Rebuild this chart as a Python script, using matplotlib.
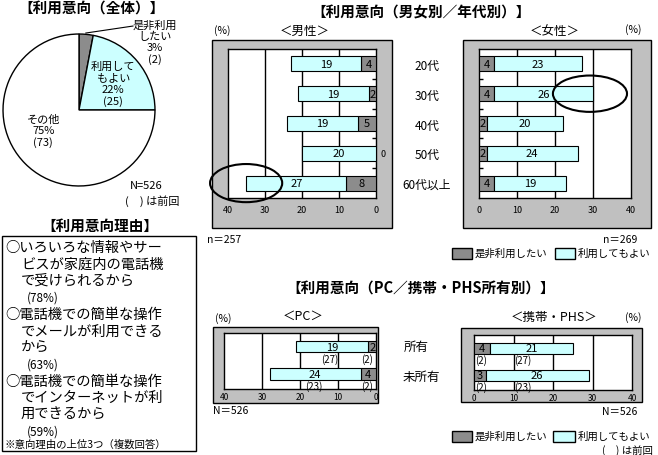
import numpy as np
import matplotlib
matplotlib.use("Agg")
import matplotlib.pyplot as plt
from matplotlib.patches import Rectangle, Ellipse
from matplotlib.transforms import blended_transform_factory

plt.rcParams['font.family'] = ['Noto Sans CJK JP', 'DejaVu Sans']

# ---- data ----
pie_labels = ['是非利用\nしたい', '利用して\nもよい', 'その他']
pie_values = [3, 22, 75]
pie_prev = [2, 25, 73]

ages = ['20代', '30代', '40代', '50代', '60代以上']
male_strong = [4, 2, 5, 0, 8]
male_ok = [19, 19, 19, 20, 27]
female_strong = [4, 4, 2, 2, 4]
female_ok = [23, 26, 20, 24, 19]

own = ['所有', '未所有']
pc_strong = [2, 4]
pc_ok = [19, 24]
pc_strong_prev = [2, 2]
pc_ok_prev = [27, 23]
mob_strong = [4, 3]
mob_ok = [21, 26]
mob_strong_prev = [2, 2]
mob_ok_prev = [27, 23]

reasons = ['いろいろな情報やサービスが家庭内の電話機で受けられるから',
           '電話機での簡単な操作でメールが利用できるから',
           '電話機での簡単な操作でインターネットが利用できるから']
reason_pcts = [78, 63, 59]

GRAY = '#8c8c8c'
CYAN = '#ccffff'
FRAME = '#c0c0c0'

W, H = 658, 456
fig = plt.figure(figsize=(W / 100, H / 100), dpi=100)


def px_axes(x0, y0, x1, y1):
    return fig.add_axes([x0 / W, 1 - y1 / H, (x1 - x0) / W, (y1 - y0) / H])


def ftext(x, y, s, **kw):
    kw.setdefault('ha', 'center')
    kw.setdefault('va', 'center')
    fig.text(x / W, 1 - y / H, s, **kw)


def frect(x0, y0, x1, y1, fc, lw=1.0, z=0):
    fig.add_artist(Rectangle((x0 / W, 1 - y1 / H), (x1 - x0) / W, (y1 - y0) / H,
                             transform=fig.transFigure, fc=fc, ec='black', lw=lw, zorder=z))


# ---- pie (overall) ----
ftext(92, 9, '【利用意向（全体）】', fontsize=10.5, fontweight='bold')
ax = px_axes(1.5, 33.5, 156.5, 188.5)
ax.pie(pie_values, colors=[GRAY, CYAN, 'white'], startangle=90, counterclock=False,
       wedgeprops=dict(edgecolor='black', linewidth=1))
ax.set_xlim(-1.02, 1.02)
ax.set_ylim(-1.02, 1.02)
ax.plot([0.09, 0.71], [1.013, 1.105], color='black', lw=0.8, clip_on=False)
pie_pos = [(1.0, 0.90), (0.45, 0.35), (-0.47, -0.27)]
for lab, v, p, (lx, ly) in zip(pie_labels, pie_values, pie_prev, pie_pos):
    ax.text(lx, ly, f'{lab}\n{v}%\n({p})', ha='center', va='center', fontsize=8,
            linespacing=1.15, clip_on=False)
ftext(130, 186, 'N=526', fontsize=8, ha='left')
ftext(125, 201, '(　) は前回', fontsize=8, ha='left')

# ---- reasons box ----
ftext(100, 226, '【利用意向理由】', fontsize=10.5, fontweight='bold')
frect(2, 237, 196, 452, 'white')
y = 248
step = 16.7
for r, p in zip(reasons, reason_pcts):
    chunks = [r[i:i + 10] for i in range(0, len(r), 10)]
    for k, c in enumerate(chunks):
        if k == 0:
            ftext(5, y, '○' + c, fontsize=10.3, ha='left')
        else:
            ftext(21, y, c, fontsize=10.3, ha='left')
        y += step
    ftext(27, y, f'({p}%)', fontsize=8.5, ha='left')
    y += step
ftext(5, 445, '※意向理由の上位3つ（複数回答）', fontsize=7.5, ha='left')

# ---- gender / age panels ----
ftext(421, 12, '【利用意向（男女別／年代別）】', fontsize=10.5, fontweight='bold')


def age_panel(ax, strong, ok, male):
    yy = np.arange(len(strong))
    ax.barh(yy, strong, height=0.5, color=GRAY, edgecolor='black', lw=0.8, zorder=3)
    ax.barh(yy, ok, left=strong, height=0.5, color=CYAN, edgecolor='black', lw=0.8, zorder=3)
    for v in (10, 20, 30):
        ax.axvline(v, color='black', lw=1, zorder=1)
    for i, (s, o) in enumerate(zip(strong, ok)):
        ax.text(s + o / 2, i, str(o), ha='center', va='center', fontsize=8, zorder=4)
        if s > 0:
            ax.text(s / 2, i, str(s), ha='center', va='center', fontsize=8, zorder=4)
        else:
            ax.text(-2, i, str(s), ha='center', va='center', fontsize=6.5, clip_on=False)
    ax.set_xlim((40, 0) if male else (0, 40))
    ax.set_ylim(len(strong) - 0.5, -0.5)
    ax.set_xticks([0, 10, 20, 30, 40])
    ax.tick_params(axis='x', length=0, pad=5, labelsize=6.5)
    ax.set_yticks(yy[:-1] + 0.5)
    ax.set_yticklabels([])
    if male:
        ax.yaxis.tick_right()
    ax.tick_params(axis='y', direction='in', length=3, width=1)
    for sp in ax.spines.values():
        sp.set_linewidth(1)


frect(212, 41, 392, 229, FRAME)
ax_m = px_axes(228, 50, 376, 199)
age_panel(ax_m, male_strong, male_ok, True)
ax_m.add_patch(Ellipse((35.1, 4.0), 19.5, 1.28, fill=False, ec='black', lw=1.5,
                       clip_on=False, zorder=5))

frect(463, 41, 651, 229, FRAME)
ax_f = px_axes(479, 50, 631, 199)
age_panel(ax_f, female_strong, female_ok, False)
ax_f.add_patch(Ellipse((29.2, 1.0), 19.5, 1.22, fill=False, ec='black', lw=1.5,
                       clip_on=False, zorder=5))

tr = blended_transform_factory(fig.transFigure, ax_m.transData)
for i, a in enumerate(ages):
    fig.text(427 / W, i + 0.05, a, transform=tr, ha='center', va='center', fontsize=8.5)

ftext(222, 31, '(%)', fontsize=7.5)
ftext(305, 31, '＜男性＞', fontsize=9)
ftext(555, 32, '＜女性＞', fontsize=9)
ftext(633, 30, '(%)', fontsize=7.5)
ftext(207, 240, 'n＝257', fontsize=7.5, ha='left')
ftext(637, 240, 'n＝269', fontsize=7.5, ha='right')

frect(452, 249, 472, 260, GRAY)
ftext(475, 254, '是非利用したい', fontsize=7.5, ha='left')
frect(555, 249, 575, 260, CYAN)
ftext(578, 254, '利用してもよい', fontsize=7.5, ha='left')

# ---- PC / mobile panels ----
ftext(421, 289, '【利用意向（PC／携帯・PHS所有別）】', fontsize=10.5, fontweight='bold')


def own_panel(ax, strong, ok, strong_prev, ok_prev, sp_pos, op_pos, ha, pc):
    yy = np.arange(len(strong))
    ax.barh(yy, strong, height=0.42, color=GRAY, edgecolor='black', lw=0.8, zorder=3)
    ax.barh(yy, ok, left=strong, height=0.42, color=CYAN, edgecolor='black', lw=0.8, zorder=3)
    for v in (10, 20, 30):
        ax.axvline(v, color='black', lw=1, zorder=1)
    for i, (s, o) in enumerate(zip(strong, ok)):
        ax.text(s + o / 2, i, str(o), ha='center', va='center', fontsize=8, zorder=4)
        ax.text(s / 2, i, str(s), ha='center', va='center', fontsize=8, zorder=4)
        ax.text(sp_pos, i + 0.42, f'({strong_prev[i]})', ha=ha, va='center', fontsize=7, zorder=4)
        ax.text(op_pos[i], i + 0.42, f'({ok_prev[i]})', ha=ha, va='center', fontsize=7, zorder=4)
    ax.set_xlim((40, 0) if pc else (0, 40))
    ax.set_ylim(1.55, -0.5)
    ax.set_xticks([0, 10, 20, 30, 40])
    ax.set_yticks([])
    ax.tick_params(axis='x', length=0, pad=2, labelsize=6)
    for sp in ax.spines.values():
        sp.set_linewidth(1)


frect(213, 328, 378, 404, FRAME)
ax_pc = px_axes(224, 334, 376, 390)
own_panel(ax_pc, pc_strong, pc_ok, pc_strong_prev, pc_ok_prev, 0.8, [10, 14], 'right', True)

frect(461, 329, 642, 403, FRAME)
ax_mb = px_axes(474, 336, 632, 391)
own_panel(ax_mb, mob_strong, mob_ok, mob_strong_prev, mob_ok_prev, 0.2, [10.2, 10.2], 'left', False)

tr2 = blended_transform_factory(fig.transFigure, ax_pc.transData)
fig.text(416 / W, 0, own[0], transform=tr2, ha='center', va='center', fontsize=9)
fig.text(421 / W, 1.1, own[1], transform=tr2, ha='center', va='center', fontsize=9)

ftext(223, 319, '(%)', fontsize=7.5)
ftext(303, 316, '＜PC＞', fontsize=9)
ftext(554, 317, '＜携帯・PHS＞', fontsize=9)
ftext(633, 318, '(%)', fontsize=7.5)
ftext(213, 411, 'N＝526', fontsize=7.5, ha='left')
ftext(637, 412, 'N＝526', fontsize=7.5, ha='right')

frect(452, 432, 472, 443, GRAY)
ftext(475, 437, '是非利用したい', fontsize=7.5, ha='left')
frect(553, 432, 575, 443, CYAN)
ftext(578, 437, '利用してもよい', fontsize=7.5, ha='left')
ftext(653, 451, '(　) は前回', fontsize=7.5, ha='right')

fig.savefig('out.png', dpi=100)
